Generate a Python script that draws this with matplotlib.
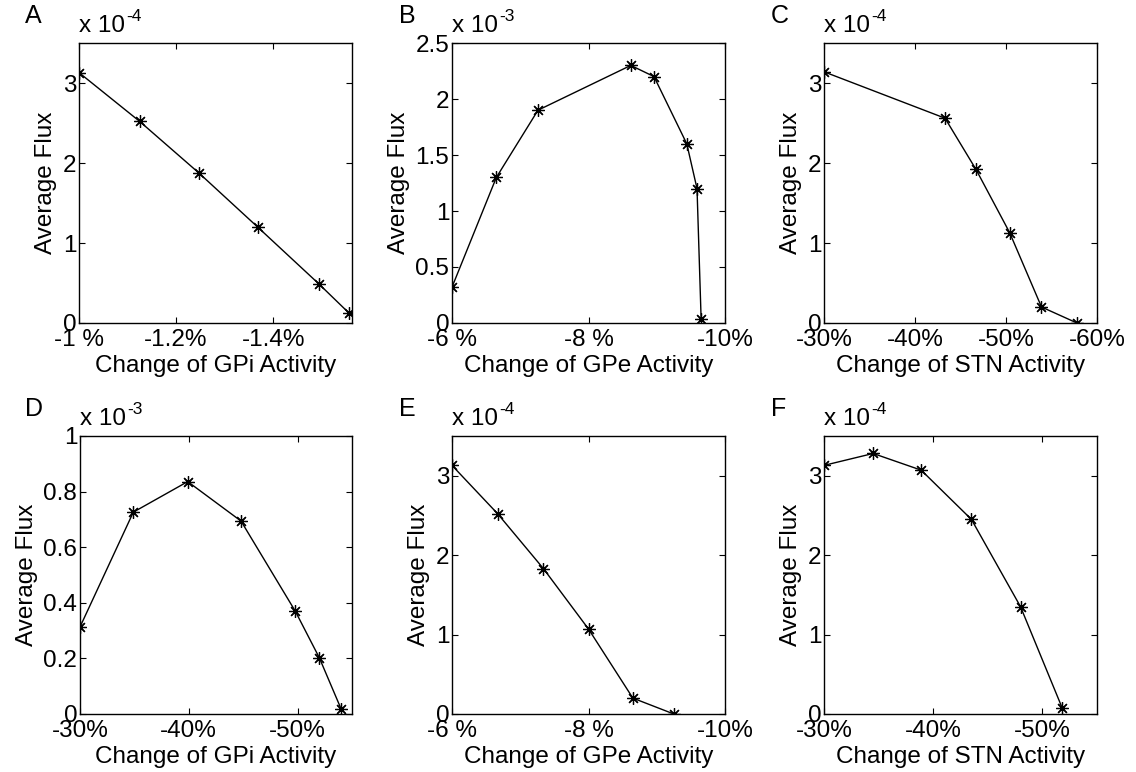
import numpy as np
import matplotlib
matplotlib.use('Agg')
import matplotlib.pyplot as plt

plt.rcParams['font.family'] = ['Liberation Sans', 'DejaVu Sans']

# --- data (x = size of the decrease in %, y = average flux) ---
# A: GPi, small change
x_a = [1.0, 1.125, 1.248, 1.368, 1.494, 1.557]
y_a = [3.13e-4, 2.52e-4, 1.87e-4, 1.20e-4, 0.49e-4, 0.12e-4]
# B: GPe, small change
x_b = [6.0, 6.65, 7.26, 8.62, 8.96, 9.44, 9.59, 9.65]
y_b = [0.32e-3, 1.30e-3, 1.90e-3, 2.30e-3, 2.20e-3, 1.60e-3, 1.20e-3, 0.04e-3]
# C: STN
x_c = [30.0, 43.3, 46.7, 50.4, 53.9, 57.8]
y_c = [3.14e-4, 2.56e-4, 1.92e-4, 1.13e-4, 0.20e-4, 0.0]
# D: GPi, large change
x_d = [30.0, 34.9, 39.9, 44.8, 49.8, 52.0, 54.0]
y_d = [0.313e-3, 0.726e-3, 0.836e-3, 0.694e-3, 0.369e-3, 0.202e-3, 0.018e-3]
# E: GPe
x_e = [6.0, 6.67, 7.34, 8.0, 8.65, 9.25]
y_e = [3.13e-4, 2.52e-4, 1.83e-4, 1.07e-4, 0.20e-4, 0.0]
# F: STN
x_f = [30.0, 34.5, 38.9, 43.5, 48.0, 51.8]
y_f = [3.13e-4, 3.28e-4, 3.07e-4, 2.45e-4, 1.35e-4, 0.08e-4]

panels = [
    # letter, x, y, exponent, xlabel, xlim, xticks, xticklabels, ylim, yticks, yticklabels, box(px)
    ('A', x_a, y_a, -4, 'Change of GPi Activity', (1.0, 1.5625), [1.0, 1.2, 1.4],
     ['-1 %', '-1.2%', '-1.4%'], (0, 3.5), [0, 1, 2, 3], ['0', '1', '2', '3'], (79, 352, 43, 323)),
    ('B', x_b, y_b, -3, 'Change of GPe Activity', (6, 10), [6, 8, 10],
     ['-6 %', '-8 %', '-10%'], (0, 2.5), [0, 0.5, 1, 1.5, 2, 2.5],
     ['0', '0.5', '1', '1.5', '2', '2.5'], (452, 725, 43, 323)),
    ('C', x_c, y_c, -4, 'Change of STN Activity', (30, 60), [30, 40, 50, 60],
     ['-30%', '-40%', '-50%', '-60%'], (0, 3.5), [0, 1, 2, 3], ['0', '1', '2', '3'], (824, 1097, 43, 323)),
    ('D', x_d, y_d, -3, 'Change of GPi Activity', (30, 55), [30, 40, 50],
     ['-30%', '-40%', '-50%'], (0, 1), [0, 0.2, 0.4, 0.6, 0.8, 1],
     ['0', '0.2', '0.4', '0.6', '0.8', '1'], (80, 352, 436, 714)),
    ('E', x_e, y_e, -4, 'Change of GPe Activity', (6, 10), [6, 8, 10],
     ['-6 %', '-8 %', '-10%'], (0, 3.5), [0, 1, 2, 3], ['0', '1', '2', '3'], (452, 725, 436, 714)),
    ('F', x_f, y_f, -4, 'Change of STN Activity', (30, 55), [30, 40, 50],
     ['-30%', '-40%', '-50%'], (0, 3.5), [0, 1, 2, 3], ['0', '1', '2', '3'], (824, 1097, 436, 714)),
]

W, H = 1136, 772
fig = plt.figure(figsize=(W / 100, H / 100), dpi=100)

asterisk = (8, 2, 0)

for letter, xs, ys, ex, xlab, xlim, xt, xtl, ylim, yt, ytl, box in panels:
    l, r, t, b = box
    ax = fig.add_axes([l / W, 1 - b / H, (r - l) / W, (b - t) / H])
    ax.plot(xs, np.array(ys) / 10.0 ** ex, color='black', linewidth=1.0,
            marker=asterisk, markersize=9, markeredgewidth=0.9)
    ax.set_xlim(*xlim)
    ax.set_ylim(*ylim)
    ax.set_xticks(xt)
    ax.set_xticklabels(xtl)
    ax.set_yticks(yt)
    ax.set_yticklabels(ytl)
    ax.tick_params(direction='in', top=True, right=True, length=4, width=0.8,
                   labelsize=17.5, pad=4)
    ax.tick_params(axis='y', pad=2)
    for s in ax.spines.values():
        s.set_linewidth(1.0)
    ax.set_xlabel(xlab, fontsize=17.5, labelpad=3)
    ax.set_ylabel('Average Flux', fontsize=17.5, labelpad=4)
    # MATLAB-style exponent above the axes
    base = ax.text(0.0, 1.02, 'x 10', transform=ax.transAxes,
                   fontsize=17.5, ha='left', va='bottom')
    ax.annotate('%d' % ex, xy=(1.0, 0.6), xycoords=base, xytext=(1, 0),
                textcoords='offset points', fontsize=12.5, ha='left', va='bottom')
    # panel letter
    lx = {79: 25, 80: 25, 452: 399, 824: 771}[l]
    fig.text(lx / W, 1 - (t - 15) / H, letter, fontsize=18, ha='left', va='bottom')

fig.savefig('out.png', dpi=100)
